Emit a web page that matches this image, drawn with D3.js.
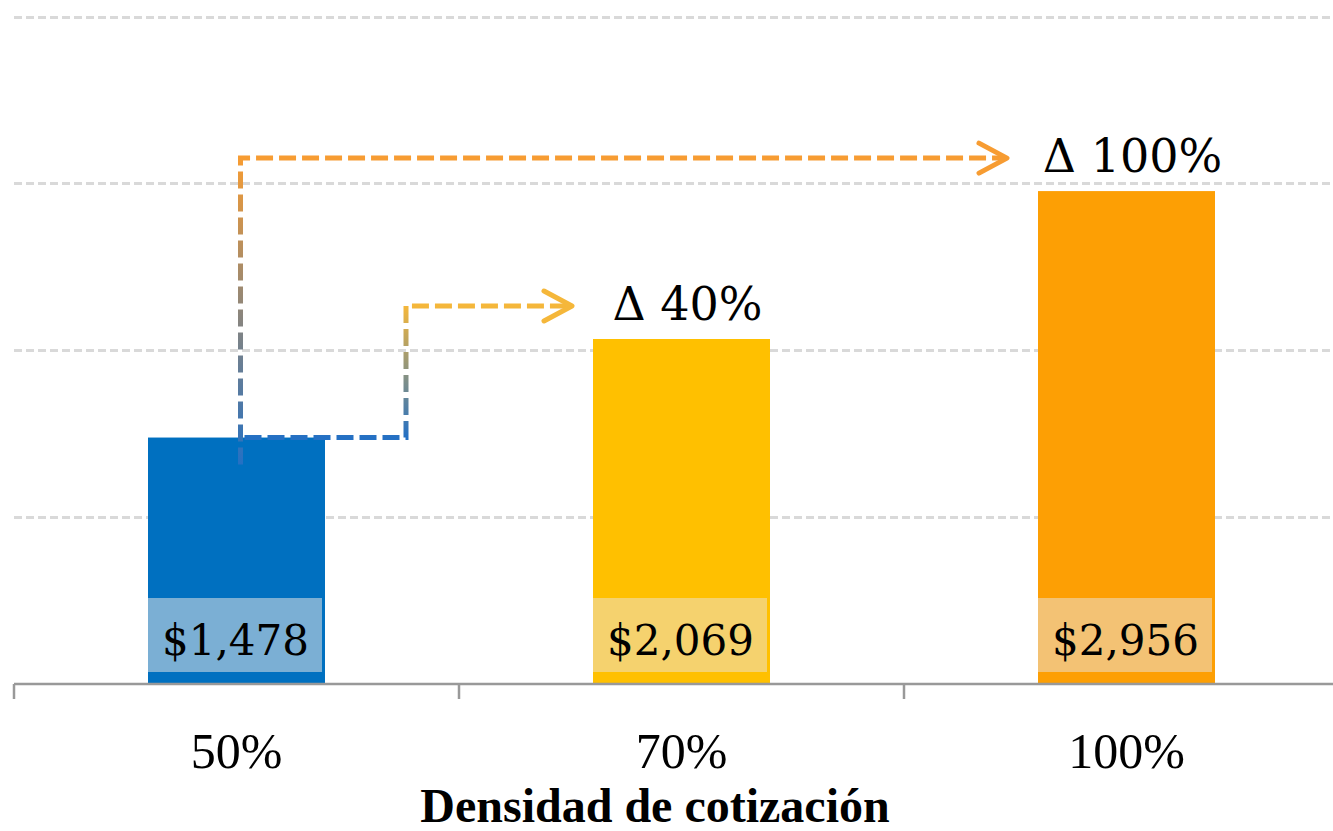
<!DOCTYPE html>
<meta charset="utf-8">
<style>
  body { margin: 0; background: #fff; }
  .grid line { stroke: #d9d9d9; stroke-width: 3; stroke-dasharray: 8 4; shape-rendering: crispEdges; }
  .xaxis path, .xaxis line { stroke: #999; stroke-width: 2.5; }
  .xaxis text { font-family: 'Liberation Serif', serif; font-size: 50px; fill: #000; }
  .val { font-family: 'DejaVu Serif', serif; font-size: 42px; fill: #000; }
  .delta { font-family: 'DejaVu Serif', serif; font-size: 46px; fill: #000; }
  .title { font-family: 'Liberation Serif', serif; font-size: 48px; font-weight: bold; }
</style>
<body>
<div id="chart"></div>
<script src="https://cdn.jsdelivr.net/npm/d3@7"></script>
<script>
  // data
  var categories = ["50%", "70%", "100%"];
  var values = [1478, 2069, 2956];
  var deltaLabels = [null, "\u0394 40%", "\u0394 100%"];
  var colors = ["#0070c0", "#ffc000", "#fd9f04"];
  var boxColors = ["#7bafd4", "#f5d26e", "#f3c274"];
  var yTicks = [1000, 2000, 3000, 4000];

  var width = 1333, height = 831;
  var svg = d3.select("#chart").append("svg")
    .attr("width", width).attr("height", height);

  var x = d3.scaleBand().domain(categories).range([14, 1349]).paddingInner(0).paddingOuter(0);
  var y = d3.scaleLinear().domain([0, 4000]).range([684, 17]);
  var barW = 177;
  var bx = d => x(d) + (x.bandwidth() - barW) / 2;
  var cx = d => x(d) + x.bandwidth() / 2;

  // gridlines
  svg.append("g").attr("class", "grid")
    .selectAll("line").data(yTicks).enter().append("line")
    .attr("x1", 14).attr("x2", 1333)
    .attr("y1", d => y(d)).attr("y2", d => y(d));

  // bars
  svg.selectAll(".bar").data(categories).enter().append("rect")
    .attr("class", "bar")
    .attr("x", d => bx(d))
    .attr("y", (d, i) => y(values[i]))
    .attr("width", barW)
    .attr("height", (d, i) => y(0) - y(values[i]))
    .attr("fill", (d, i) => colors[i]);

  // value label boxes
  svg.selectAll(".vbox").data(categories).enter().append("rect")
    .attr("x", d => bx(d))
    .attr("y", 598)
    .attr("width", barW - 3)
    .attr("height", 74)
    .attr("fill", (d, i) => boxColors[i]);

  svg.selectAll(".val").data(categories).enter().append("text")
    .attr("class", "val")
    .attr("x", d => cx(d) - 1)
    .attr("y", 655)
    .attr("text-anchor", "middle")
    .text((d, i) => "$" + d3.format(",")(values[i]));

  // x axis
  var xAxis = d3.axisBottom(x).tickSize(0).tickPadding(0);
  var gx = svg.append("g").attr("class", "xaxis")
    .attr("transform", "translate(0," + y(0) + ")")
    .call(xAxis);
  gx.select(".domain").attr("d", "M14,0H1333");
  gx.selectAll(".tick text").attr("dy", 0).attr("y", 84);
  // boundary ticks between categories
  gx.selectAll(".bnd").data(categories).enter().append("line")
    .attr("x1", d => x(d)).attr("x2", d => x(d))
    .attr("y1", 0).attr("y2", 15);

  // axis title
  svg.append("text").attr("class", "title")
    .attr("x", 655).attr("y", 822)
    .attr("text-anchor", "middle")
    .text("Densidad de cotización");

  // gradient arrows
  var defs = svg.append("defs");
  function grad(id, y1, y2, c1, c2) {
    var g = defs.append("linearGradient").attr("id", id)
      .attr("gradientUnits", "userSpaceOnUse")
      .attr("x1", 0).attr("x2", 0).attr("y1", y1).attr("y2", y2);
    g.append("stop").attr("offset", "0%").attr("stop-color", c1);
    g.append("stop").attr("offset", "100%").attr("stop-color", c2);
  }
  var blueL = "#2470c4", yellowL = "#f5b73a", orangeL = "#f79c32";

  var vx1 = cx(categories[0]) + 4;
  var top1 = y(values[2]) - 33;
  var tip1 = bx(categories[2]) - 31;
  grad("g1", y(values[0]) + 27, top1, blueL, orangeL);
  svg.append("path")
    .attr("d", "M" + vx1 + "," + (y(values[0]) + 27) + "V" + top1 + "H" + (tip1 - 4))
    .attr("fill", "none").attr("stroke", "url(#g1)").attr("stroke-width", 5)
    .attr("stroke-dasharray", "17 6");

  var vx2 = bx(categories[0]) + barW + 81;
  var top2 = y(values[1]) - 33;
  var tip2 = bx(categories[1]) - 21;
  grad("g2", y(values[0]), top2, blueL, yellowL);
  svg.append("path")
    .attr("d", "M" + (vx1 + 4) + "," + y(values[0]) + "H" + vx2 + "V" + top2 + "H" + (tip2 - 4))
    .attr("fill", "none").attr("stroke", "url(#g2)").attr("stroke-width", 5)
    .attr("stroke-dasharray", "17 6");

  function chevron(tx, ty, c) {
    svg.append("path")
      .attr("d", "M" + (tx - 28) + "," + (ty - 15) + "L" + tx + "," + ty + "L" + (tx - 28) + "," + (ty + 15))
      .attr("fill", "none").attr("stroke", c).attr("stroke-width", 5)
      .attr("stroke-linecap", "round").attr("stroke-linejoin", "round");
  }
  chevron(tip1, top1, orangeL);
  chevron(tip2, top2, yellowL);

  // delta labels
  svg.selectAll(".delta").data(categories.filter((d, i) => deltaLabels[i])).enter().append("text")
    .attr("class", "delta")
    .attr("x", d => cx(d) + 6)
    .attr("y", d => y(values[categories.indexOf(d)]) - 19)
    .attr("text-anchor", "middle")
    .text(d => deltaLabels[categories.indexOf(d)]);
</script>
</body>
